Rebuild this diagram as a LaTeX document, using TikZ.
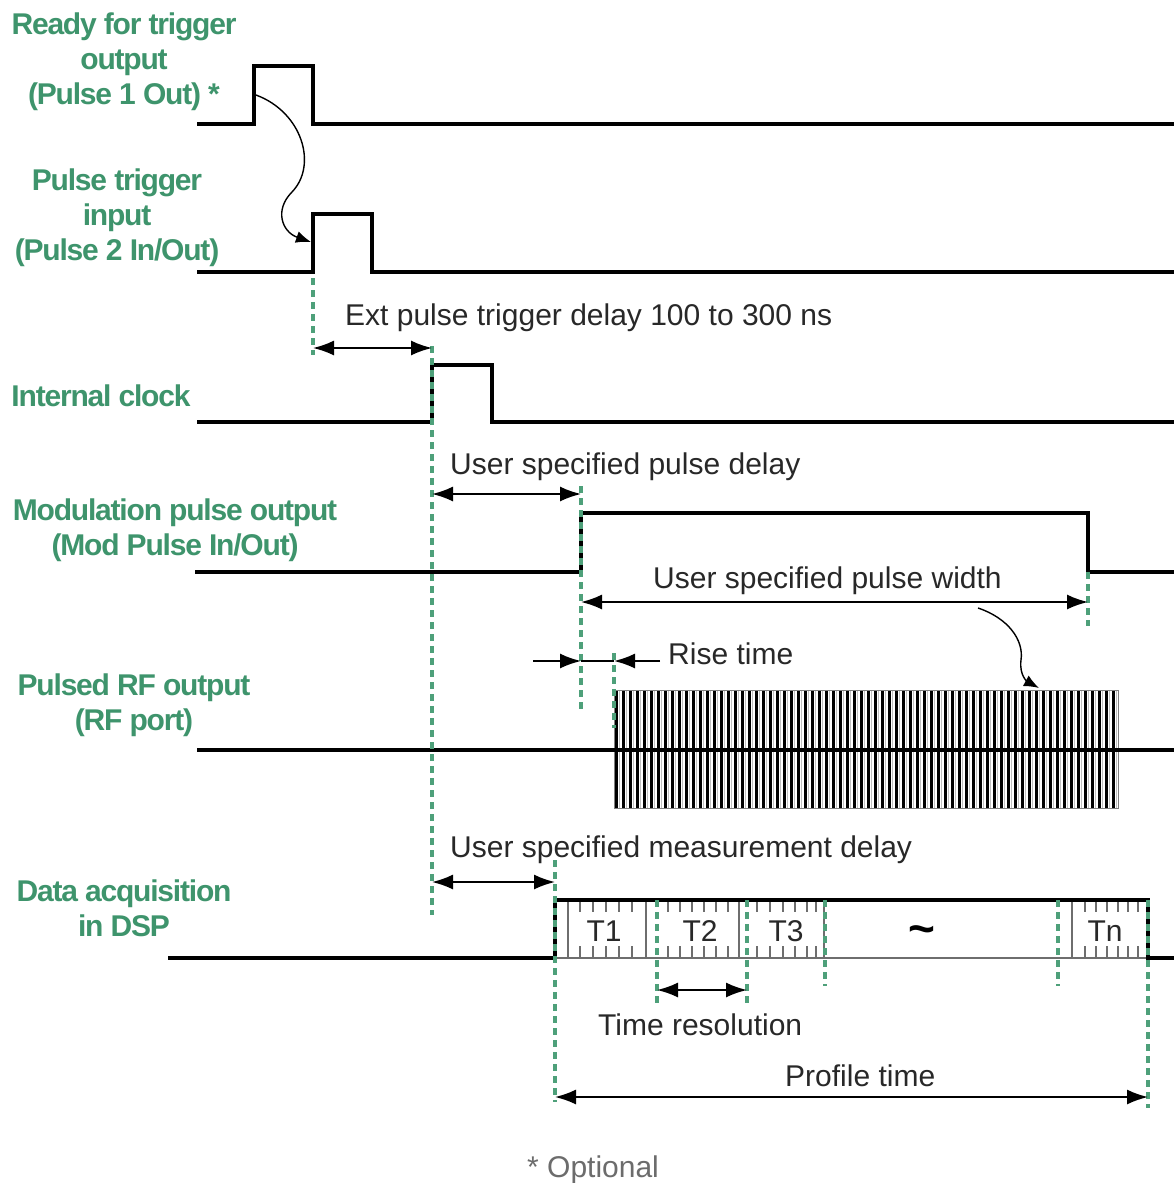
\documentclass[tikz,border=0pt]{standalone}
\usepackage{fontspec}
\setmainfont{Liberation Sans}
\newfontfamily\lblfont[LetterSpace=-4]{Liberation Sans Bold}
\newfontfamily\tildefont{Liberation Sans Bold}
\usetikzlibrary{arrows.meta}
\definecolor{grn}{RGB}{62,148,108}
\definecolor{dgrn}{RGB}{78,160,122}
\definecolor{txt}{RGB}{40,40,40}
\definecolor{cellgray}{RGB}{110,110,110}
\tikzset{
  sig/.style={line width=3.2pt, black, line join=miter},
  grline/.style={dgrn, line width=3.6pt, dash pattern=on 7pt off 5pt},
  lbl/.style={text=grn, font=\lblfont\fontsize{30}{35}\selectfont, align=center, inner sep=0pt},
  ann/.style={text=txt, font=\fontsize{30}{35}\selectfont, inner sep=0pt, anchor=base west},
  celltxt/.style={text=txt, font=\fontsize{30}{35}\selectfont, inner sep=0pt},
  dimarrow/.style={line width=1.8pt, {Latex[length=21pt,width=15pt]}-{Latex[length=21pt,width=15pt]}},
  onearrow/.style={line width=1.8pt, -{Latex[length=21pt,width=15pt]}},
  curvearrow/.style={line width=1.4pt, -{Latex[length=15pt,width=12pt]}},
  cellline/.style={cellgray, line width=1.6pt},
}
\begin{document}
\begin{tikzpicture}[x=1pt,y=-1pt]
\useasboundingbox (0,0) rectangle (1174,1183);
\fill[white] (0,0) rectangle (1174,1183);

% ---------- labels ----------
\node[lbl] (L1) at (124,62) {Ready for trigger\\output\\(Pulse 1 Out) *};
\node[lbl] (L2) at (117,218) {Pulse trigger\\input\\(Pulse 2 In/Out)};
\node[lbl] (L3) at (101,396) {Internal clock};
\node[lbl] (L4) at (175,530) {Modulation pulse output\\(Mod Pulse In/Out)};
\node[lbl] (L5) at (134,705) {Pulsed RF output\\(RF port)};
\node[lbl] (L6) at (124,908) {Data acquisition\\in DSP};

% ---------- signals ----------
\draw[sig] (197,124) -- (254,124) -- (254,66) -- (313,66) -- (313,124) -- (1174,124);
\draw[sig] (197,272) -- (313,272) -- (313,214) -- (372,214) -- (372,272) -- (1174,272);
\draw[sig] (197,422) -- (432,422) -- (432,365) -- (492,365) -- (492,422) -- (1174,422);
\draw[sig] (195,572) -- (581,572) -- (581,513) -- (1088,513) -- (1088,572) -- (1174,572);

% RF burst
\fill[white] (614,690) rectangle (1118,808);
\foreach \i in {0,...,71} {
  \draw[gray!50, line width=1pt] ({619.5+\i*7},690) -- ++(0,118);
  \draw[black, line width=3pt] ({616+\i*7},690) -- ++(0,118);
}
\draw[gray, line width=1pt] (614,690) rectangle (1118,808);
\draw[sig] (197,750) -- (1174,750);

% Data acquisition
\draw[cellline] (555,958) -- (1148,958);
\foreach \x in {568,646,739,824,1072} \draw[cellline] (\x,900) -- (\x,958);
\foreach \x in {580,593,606,619,632, 668,680,692,704,716,728, 757,770,783,795,807,816, 1085,1096,1107,1118,1128,1138} {
  \draw[cellline] (\x,900) -- (\x,912);
  \draw[cellline] (\x,946) -- (\x,958);
}
\draw[sig] (168,958) -- (555,958) -- (555,900) -- (1148,900) -- (1148,958) -- (1174,958);
\node[celltxt] (T1) at (604,931) {T1};
\node[celltxt] (T2) at (700,931) {T2};
\node[celltxt] (T3) at (786,931) {T3};
\node[celltxt, text=black] (TT) at (922,935) {\tildefont\fontsize{46}{48}\selectfont\textasciitilde};
\node[celltxt] (Tn) at (1105,931) {Tn};

% ---------- green dashed guides ----------
\coordinate (g1a) at (313,278);  \coordinate (g1b) at (313,355);
\coordinate (g2a) at (432,346);  \coordinate (g2b) at (432,915);
\coordinate (g3a) at (581,486);  \coordinate (g3b) at (581,712);
\coordinate (g4a) at (614,653);  \coordinate (g4b) at (614,728);
\coordinate (g5a) at (1088,572); \coordinate (g5b) at (1088,626);
\coordinate (g6a) at (555,860);  \coordinate (g6b) at (555,1102);
\coordinate (g7a) at (657,900);  \coordinate (g7b) at (657,1003);
\coordinate (g8a) at (747,900);  \coordinate (g8b) at (747,1003);
\coordinate (g9a) at (825,900);  \coordinate (g9b) at (825,986);
\coordinate (g10a) at (1058,900); \coordinate (g10b) at (1058,986);
\coordinate (g11a) at (1148,900); \coordinate (g11b) at (1148,1108);
\foreach \k in {1,...,11} \draw[grline] (g\k a) -- (g\k b);

% ---------- dimension arrows ----------
\coordinate (e1) at (313,348); \coordinate (e2) at (432,348);
\draw[dimarrow] (e1) -- (e2);
\coordinate (d1) at (432,494); \coordinate (d2) at (581,494);
\draw[dimarrow] (d1) -- (d2);
\coordinate (w1) at (581,602); \coordinate (w2) at (1088,602);
\draw[dimarrow] (w1) -- (w2);
\coordinate (r0) at (533,661); \coordinate (r1) at (581,661);
\coordinate (r2) at (614,661); \coordinate (r3) at (660,661);
\draw[onearrow] (r0) -- (r1);
\draw[line width=1.8pt] (r1) -- (r2);
\draw[onearrow] (r3) -- (r2);
\coordinate (m1) at (432,882); \coordinate (m2) at (555,882);
\draw[dimarrow] (m1) -- (m2);
\coordinate (t1) at (657,990); \coordinate (t2) at (747,990);
\draw[dimarrow] (t1) -- (t2);
\coordinate (p1) at (555,1097); \coordinate (p2) at (1148,1097);
\draw[dimarrow] (p1) -- (p2);

% ---------- curved arrows ----------
\coordinate (c1s) at (256,95); \coordinate (c1e) at (311,242);
\draw[curvearrow] (c1s) .. controls (302,112) and (318,165) .. (292,192)
   .. controls (274,210) and (282,232) .. (c1e);
\coordinate (c2s) at (978,608); \coordinate (c2e) at (1039,688);
\draw[curvearrow] (c2s) .. controls (1008,618) and (1024,640) .. (1021,660)
   .. controls (1019,676) and (1028,682) .. (c2e);

% ---------- annotation texts ----------
\node[ann] (a1) at (345,325) {Ext pulse trigger delay 100 to 300 ns};
\node[ann] (a2) at (450,474) {User specified pulse delay};
\node[ann] (a3) at (653,588) {User specified pulse width};
\node[ann] (a4) at (668,664) {Rise time};
\node[ann] (a5) at (450,857) {User specified measurement delay};
\node[ann] (a6) at (598,1035) {Time resolution};
\node[ann] (a7) at (785,1086) {Profile time};
\node[ann, text=gray!85!black] (a8) at (527,1177) {* Optional};
\end{tikzpicture}
\end{document}
